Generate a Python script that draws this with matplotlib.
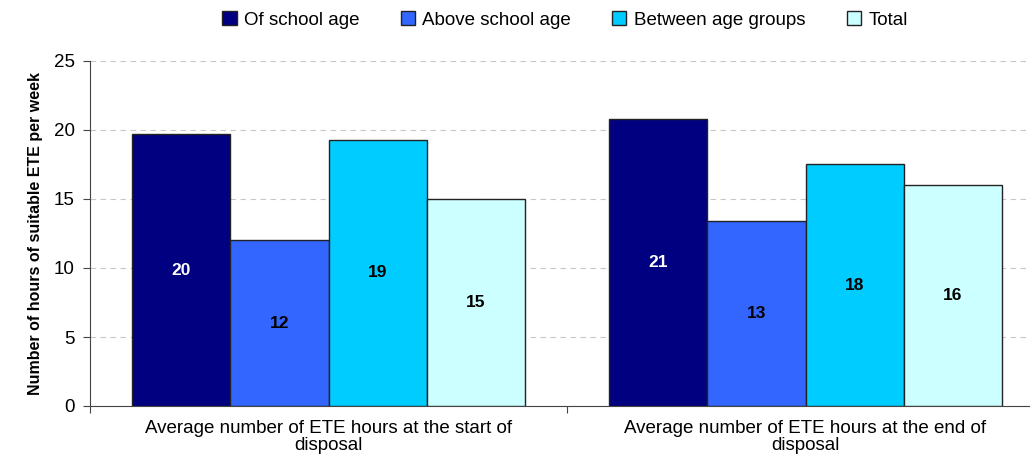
import matplotlib.pyplot as plt
import numpy as np

plt.rcParams['font.family'] = ['Liberation Sans', 'DejaVu Sans']

# data
categories = ['Average number of ETE hours at the start of\ndisposal',
              'Average number of ETE hours at the end of\ndisposal']
series = ['Of school age', 'Above school age', 'Between age groups', 'Total']
values = [[19.7, 20.8],
          [12.0, 13.4],
          [19.3, 17.5],
          [15.0, 16.0]]
colors = ['#000080', '#3366FF', '#00CCFF', '#CCFFFF']
label_colors = ['white', 'black', 'black', 'black']

fig = plt.figure(figsize=(10.3, 4.54), dpi=100)
ax = fig.add_axes([90 / 1030, 48 / 454, 954 / 1030, 345 / 454])

x = np.arange(len(categories))
w = 0.2055
for i, name in enumerate(series):
    bars = ax.bar(x + (i - 1.5) * w, values[i], w, color=colors[i],
                  edgecolor='#222222', linewidth=1.0, label=name, zorder=3)
    ax.bar_label(bars, labels=[f'{v:.0f}' for v in values[i]], label_type='center',
                 color=label_colors[i], fontsize=12.5, fontweight='bold')

ax.set_xlim(-0.5, 1.5)
ax.set_ylim(0, 25)
ax.set_yticks([0, 5, 10, 15, 20, 25])
ax.yaxis.grid(True, linestyle=(0, (5, 4)), color='#c8c8c8', linewidth=0.8, zorder=0)
ax.set_xticks([-0.5, 0.5, 1.5])
ax.set_xticklabels([])
ax.set_xticks(x, minor=True)
ax.set_xticklabels(categories, minor=True, fontsize=13.5, linespacing=1.0)
ax.tick_params(axis='x', which='minor', length=0, pad=10)
ax.tick_params(axis='x', which='major', length=5, color='#444444')
ax.tick_params(axis='y', length=5, labelsize=13.5, color='#444444', pad=6)
for s in ['top', 'right']:
    ax.spines[s].set_visible(False)
for s in ['left', 'bottom']:
    ax.spines[s].set_color('#444444')

ax.set_ylabel('Number of hours of suitable ETE per week', fontsize=11.5,
              fontweight='bold', labelpad=8)

fig.legend(*ax.get_legend_handles_labels(), loc='center',
           bbox_to_anchor=(565 / 1030, 1 - 20 / 454), ncol=4,
           frameon=False, fontsize=13.5, handlelength=0.75, handleheight=0.75,
           handletextpad=0.4, columnspacing=2.2)

plt.savefig('out.png', dpi=100)
